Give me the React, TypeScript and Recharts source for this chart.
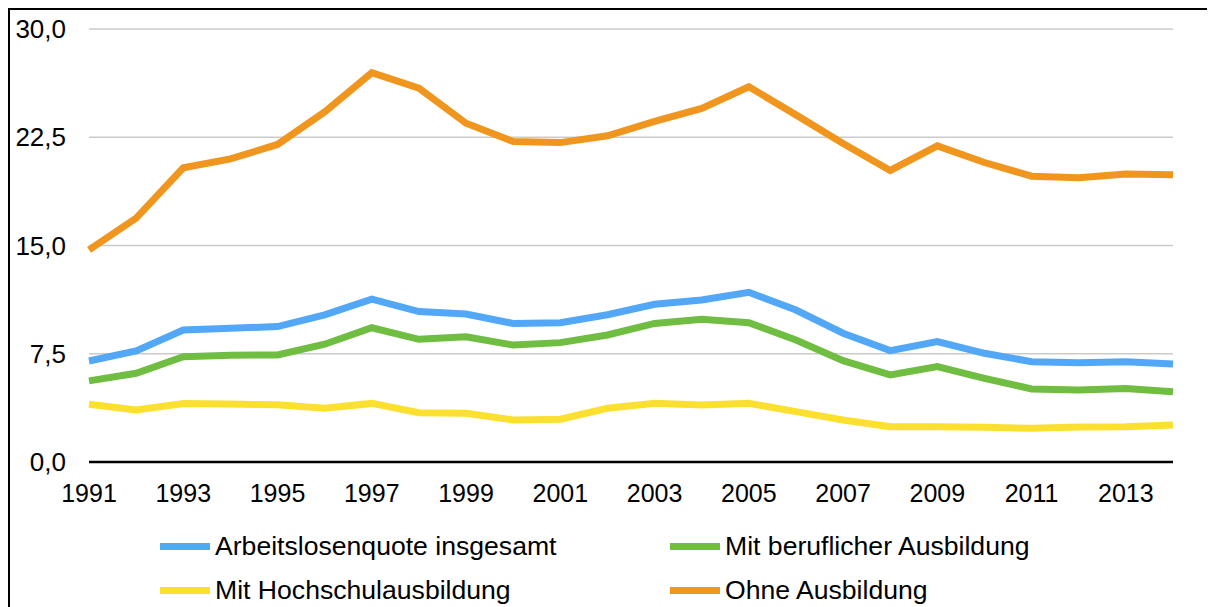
import React from "react";
import {
  LineChart,
  Line,
  XAxis,
  YAxis,
  CartesianGrid,
  Legend,
} from "recharts";

const years = [
  "1991", "1992", "1993", "1994", "1995", "1996", "1997", "1998",
  "1999", "2000", "2001", "2002", "2003", "2004", "2005", "2006",
  "2007", "2008", "2009", "2010", "2011", "2012", "2013", "2014",
];

const insgesamt = [
  7.0, 7.7, 9.15, 9.27, 9.38, 10.2, 11.28, 10.42, 10.25, 9.6, 9.65, 10.2,
  10.93, 11.23, 11.76, 10.53, 8.92, 7.72, 8.34, 7.53, 6.95, 6.88, 6.95, 6.79,
];

const beruflich = [
  5.62, 6.15, 7.3, 7.4, 7.42, 8.16, 9.3, 8.5, 8.68, 8.1, 8.27, 8.8,
  9.6, 9.89, 9.65, 8.45, 7.02, 6.03, 6.61, 5.8, 5.06, 4.99, 5.1, 4.87,
];

const hochschule = [
  4.0, 3.6, 4.05, 4.02, 3.96, 3.73, 4.06, 3.42, 3.37, 2.91, 2.96, 3.72,
  4.07, 3.95, 4.07, 3.49, 2.91, 2.45, 2.45, 2.4, 2.33, 2.42, 2.45, 2.56,
];

const ohne = [
  14.7, 16.9, 20.38, 21.0, 22.0, 24.25, 26.97, 25.9, 23.47, 22.2, 22.13, 22.6,
  23.6, 24.5, 26.0, 24.05, 22.07, 20.2, 21.9, 20.75, 19.8, 19.7, 19.96, 19.9,
];

const yTicks = [0, 7.5, 15, 22.5, 30];

const series = [
  { key: "insgesamt", name: "Arbeitslosenquote insgesamt", color: "#52a8f6" },
  { key: "beruflich", name: "Mit beruflicher Ausbildung", color: "#6fbe42" },
  { key: "hochschule", name: "Mit Hochschulausbildung", color: "#fbe030" },
  { key: "ohne", name: "Ohne Ausbildung", color: "#f0961e" },
];

const data = years.map((year, i) => ({
  year,
  insgesamt: insgesamt[i],
  beruflich: beruflich[i],
  hochschule: hochschule[i],
  ohne: ohne[i],
}));

const font = "'Liberation Sans', Arial, sans-serif";

// two rows, two columns like the original
const legendPos = [
  { left: 150, top: 44 },
  { left: 660, top: 44 },
  { left: 150, top: 88 },
  { left: 660, top: 88 },
];

const renderLegend = () => (
  <div style={{ position: "relative", width: 1197, height: 105, fontFamily: font }}>
    {series.map((s, i) => (
      <div
        key={s.key}
        style={{
          position: "absolute",
          left: legendPos[i].left,
          top: legendPos[i].top,
          transform: "translateY(-50%)",
          display: "flex",
          alignItems: "center",
          whiteSpace: "nowrap",
        }}
      >
        <span
          style={{
            display: "inline-block",
            width: 50,
            height: 7,
            background: s.color,
            marginRight: 5,
          }}
        />
        <span style={{ fontSize: 26.6, color: "#000", lineHeight: "30px" }}>{s.name}</span>
      </div>
    ))}
  </div>
);

const App: React.FC = () => {
  return (
    <div
      style={{
        width: 1240,
        height: 597,
        borderTop: "2px solid #000",
        borderLeft: "2px solid #000",
        background: "#fff",
        overflow: "hidden",
      }}
    >
      <style>{`body{overflow:hidden}`}</style>
      <LineChart
        width={1197}
        height={597}
        data={data}
        margin={{ top: 19, right: 34, left: 0, bottom: 0 }}
      >
        <CartesianGrid vertical={false} stroke="#cbcbcb" strokeWidth={1.5} />
        <XAxis
          dataKey="year"
          interval={1}
          height={40}
          tickLine={false}
          tickSize={0}
          tickMargin={22}
          fontSize={25}
          fontFamily={font}
          axisLine={{ stroke: "#000", strokeWidth: 2.5 }}
          tick={{ fill: "#000", fontSize: 25, fontFamily: font }}
        />
        <YAxis
          domain={[0, 30]}
          ticks={yTicks}
          width={79}
          axisLine={false}
          tickLine={false}
          tickSize={0}
          tickMargin={23}
          fontSize={26}
          fontFamily={font}
          tickFormatter={(v: number) => v.toFixed(1).replace(".", ",")}
          tick={{ fill: "#000", fontSize: 26, fontFamily: font }}
        />
        <Legend
          verticalAlign="bottom"
          content={renderLegend}
          wrapperStyle={{ top: 492, left: 0, width: 1197, height: 105 }}
        />
        {series.map((s) => (
          <Line
            key={s.key}
            type="linear"
            dataKey={s.key}
            name={s.name}
            stroke={s.color}
            strokeWidth={7}
            dot={false}
            activeDot={false}
            isAnimationActive={false}
          />
        ))}
      </LineChart>
    </div>
  );
};

export default App;
